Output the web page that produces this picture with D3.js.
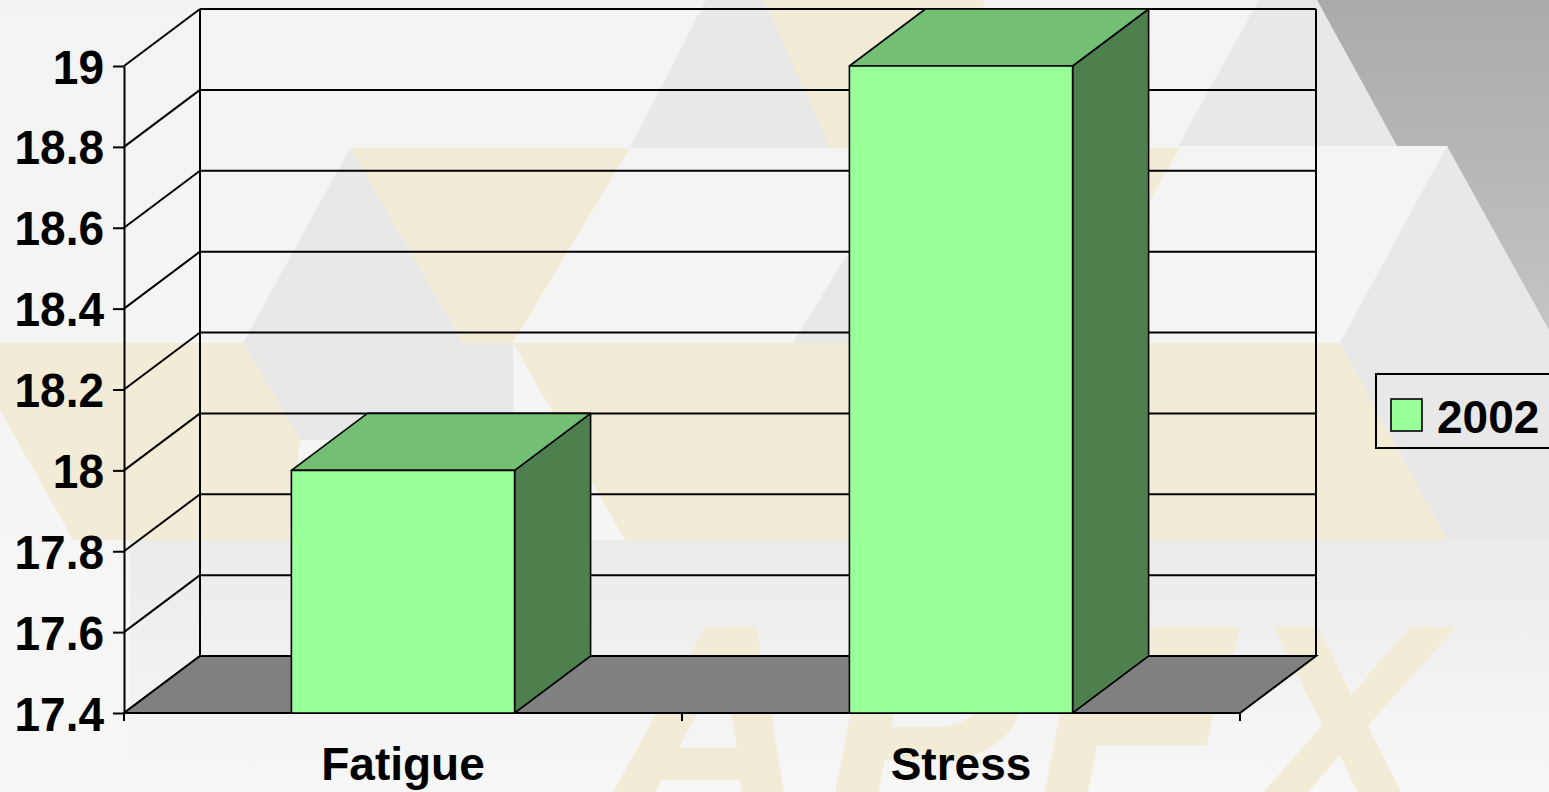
<!DOCTYPE html>
<html>
<head>
<meta charset="utf-8">
<script src="https://cdn.jsdelivr.net/npm/d3@7"></script>
<style>
  body { margin: 0; overflow: hidden; background: #f4f4f4; }
  svg { display: block; font-family: "Liberation Sans", Arial, sans-serif; }
</style>
</head>
<body>
<div class="chart"></div>
<script>
// chart data
var categories = ['Fatigue', 'Stress'];
var series2002 = [18.0, 19.0];
var seriesName = '2002';
var yTickValues = [17.4, 17.6, 17.8, 18, 18.2, 18.4, 18.6, 18.8, 19];

var W = 1549, H = 792;
var front = { left: 124, right: 1240, top: 66, bottom: 713 };
var depth = { dx: 76, dy: -57 }; // offset of back wall

var svg = d3.select('.chart')
  .append('svg')
    .attr('width', W)
    .attr('height', H);

// ---- slide background (decoration) ----
var defs = svg.append('defs');
var bgGrad = defs.append('linearGradient').attr('id', 'bg').attr('x1', 0).attr('y1', 0).attr('x2', 0).attr('y2', 1);
bgGrad.append('stop').attr('offset', 0).attr('stop-color', '#f3f3f3');
bgGrad.append('stop').attr('offset', 1).attr('stop-color', '#f7f7f7');
var darkGrad = defs.append('linearGradient').attr('id', 'dark').attr('x1', 0).attr('y1', 0).attr('x2', 0).attr('y2', 1);
darkGrad.append('stop').attr('offset', 0).attr('stop-color', '#aaaaaa');
darkGrad.append('stop').attr('offset', 1).attr('stop-color', '#cbcbcb');
var lowGrad = defs.append('linearGradient').attr('id', 'low').attr('x1', 0).attr('y1', 0).attr('x2', 0).attr('y2', 1);
lowGrad.append('stop').attr('offset', 0).attr('stop-color', '#ebebeb');
lowGrad.append('stop').attr('offset', 1).attr('stop-color', '#f7f7f7');

svg.append('rect').attr('width', W).attr('height', H).attr('fill', 'url(#bg)');

var beige = '#f2ecd6', grey = '#e8e8e8';
var bgShapes = [
  { c: grey,  p: [[706,0],[764,0],[848,148],[630,148]] },
  { c: beige, p: [[764,0],[986,0],[910,148],[830,148]] },
  { c: grey,  p: [[1259,0],[1317,0],[1397,146],[1178,146]] },
  { c: 'url(#dark)', p: [[1317,0],[1549,0],[1549,420],[1447,146],[1397,146]] },
  { c: grey,  p: [[1447,146],[1549,330],[1549,343],[1340,343]] },
  { c: beige, p: [[1150,148],[1180,148],[1150,200]] },
  { c: beige, p: [[350,148],[630,148],[513,343],[463,343]] },
  { c: grey,  p: [[350,148],[463,343],[243,343]] },
  { c: grey,  p: [[243,343],[513,343],[513,440],[300,440]] },
  { c: grey,  p: [[850,250],[850,440],[793,343]] },
  { c: beige, p: [[0,343],[243,343],[300,440],[290,540],[73,540],[0,410]] },
  { c: beige, p: [[513,343],[1340,343],[1447,540],[625,540]] },
  { c: grey,  p: [[1340,343],[1549,343],[1549,560],[1447,540]] },
  { c: 'url(#low)', p: [[130,540],[1549,540],[1549,792],[130,792]] }
];
svg.append('g')
  .selectAll('polygon')
  .data(bgShapes)
  .enter()
  .append('polygon')
    .attr('points', d => d.p.join(' '))
    .attr('fill', d => d.c);

svg.append('text')
  .attr('x', 596)
  .attr('y', 833)
  .attr('fill', beige)
  .attr('font-size', 300)
  .attr('font-weight', 'bold')
  .attr('font-style', 'italic')
  .attr('textLength', 845)
  .attr('lengthAdjust', 'spacing')
  .text('APEX');

// ---- scales ----
var yScale = d3.scaleLinear()
  .domain([yTickValues[0], yTickValues[yTickValues.length - 1]])
  .range([front.bottom, front.top]);

var xScale = d3.scaleBand()
  .domain(categories)
  .range([front.left, front.right])
  .paddingInner(0.6)
  .paddingOuter(0.3);

var chart = svg.append('g')
  .attr('fill', 'none')
  .attr('stroke', '#000')
  .attr('stroke-width', 2);

// side wall diagonals + back wall gridlines
yTickValues.forEach(function (t) {
  var y = yScale(t);
  chart.append('line')
    .attr('x1', front.left).attr('y1', y)
    .attr('x2', front.left + depth.dx).attr('y2', y + depth.dy);
  chart.append('line')
    .attr('x1', front.left + depth.dx).attr('y1', y + depth.dy)
    .attr('x2', front.right + depth.dx).attr('y2', y + depth.dy);
});
[front.left + depth.dx, front.right + depth.dx].forEach(function (x) {
  chart.append('line')
    .attr('x1', x).attr('y1', front.top + depth.dy)
    .attr('x2', x).attr('y2', front.bottom + depth.dy);
});

// floor
var fb = front.bottom;
chart.append('polygon')
  .attr('points', [
    [front.left, fb], [front.right, fb],
    [front.right + depth.dx, fb + depth.dy], [front.left + depth.dx, fb + depth.dy]
  ].join(' '))
  .attr('fill', '#808080');

// bars
var bars = chart.selectAll('.bar')
  .data(categories.map((c, i) => ({ cat: c, v: series2002[i] })))
  .enter()
  .append('g')
    .attr('class', 'bar')
    .attr('stroke-width', 1.6)
    .attr('stroke-linejoin', 'round');

bars.append('polygon') // side
  .attr('fill', '#4e804e')
  .attr('points', function (d) {
    var x = xScale(d.cat) + xScale.bandwidth(), y = yScale(d.v);
    return [[x, y], [x + depth.dx, y + depth.dy], [x + depth.dx, fb + depth.dy], [x, fb]].join(' ');
  });
bars.append('polygon') // top
  .attr('fill', '#73bf73')
  .attr('points', function (d) {
    var x = xScale(d.cat), w = xScale.bandwidth(), y = yScale(d.v);
    return [[x, y], [x + w, y], [x + w + depth.dx, y + depth.dy], [x + depth.dx, y + depth.dy]].join(' ');
  });
bars.append('rect') // front
  .attr('fill', '#99ff99')
  .attr('x', d => xScale(d.cat))
  .attr('y', d => yScale(d.v))
  .attr('width', xScale.bandwidth())
  .attr('height', d => fb - yScale(d.v));

// y axis on the front left edge
var yAxis = d3.axisLeft(yScale)
  .tickValues(yTickValues)
  .tickFormat(d3.format('~g'))
  .tickSize(11)
  .tickSizeOuter(0)
  .tickPadding(9);
var yG = svg.append('g')
  .attr('transform', 'translate(' + front.left + ',0)')
  .call(yAxis);
yG.select('.domain').attr('stroke', '#000').attr('stroke-width', 2);
yG.selectAll('.tick line').attr('stroke', '#000').attr('stroke-width', 2);
yG.selectAll('.tick text')
  .attr('fill', '#000')
  .attr('font-size', 46)
  .attr('font-weight', 'bold')
  .attr('font-family', '"Liberation Sans", Arial, sans-serif')
  .attr('dy', '0.35em')
  .attr('transform', 'scale(1,1.06)');

// x axis: ticks between categories, labels centred
var step = xScale.step();
var xTicks = d3.range(categories.length + 1).map(i => front.left + i * step);
svg.append('g')
  .selectAll('line')
  .data(xTicks)
  .enter()
  .append('line')
    .attr('x1', d => d).attr('x2', d => d)
    .attr('y1', fb).attr('y2', fb + 8)
    .attr('stroke', '#000')
    .attr('stroke-width', 2);

var xAxis = d3.axisBottom(xScale).tickSize(0).tickPadding(0);
var xG = svg.append('g')
  .attr('transform', 'translate(0,' + fb + ')')
  .call(xAxis);
xG.select('.domain').remove();
xG.selectAll('.tick text')
  .attr('fill', '#000')
  .attr('font-size', 46)
  .attr('font-weight', 'bold')
  .attr('font-family', '"Liberation Sans", Arial, sans-serif')
  .attr('dy', 0)
  .attr('y', 67);

// legend
var legend = svg.append('g').attr('transform', 'translate(1376,374)');
legend.append('rect')
  .attr('width', 200).attr('height', 74)
  .attr('fill', 'none').attr('stroke', '#000').attr('stroke-width', 2);
legend.append('rect')
  .attr('x', 15).attr('y', 25).attr('width', 31).attr('height', 32)
  .attr('fill', '#99ff99').attr('stroke', '#000').attr('stroke-width', 1.6);
legend.append('text')
  .attr('x', 61).attr('y', 59)
  .attr('font-size', 46)
  .attr('font-weight', 'bold')
  .text(seriesName);
</script>
</body>
</html>
